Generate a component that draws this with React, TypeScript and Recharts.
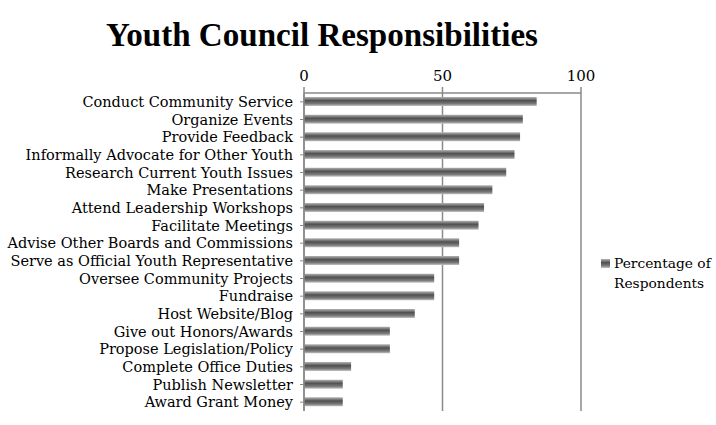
import { Bar, BarChart, XAxis, YAxis, CartesianGrid } from "recharts"

const categories = [
  "Conduct Community Service",
  "Organize Events",
  "Provide Feedback",
  "Informally Advocate for Other Youth",
  "Research Current Youth Issues",
  "Make Presentations",
  "Attend Leadership Workshops",
  "Facilitate Meetings",
  "Advise Other Boards and Commissions",
  "Serve as Official Youth Representative",
  "Oversee Community Projects",
  "Fundraise",
  "Host Website/Blog",
  "Give out Honors/Awards",
  "Propose Legislation/Policy",
  "Complete Office Duties",
  "Publish Newsletter",
  "Award Grant Money",
]

const percentages = [84, 79, 78, 76, 73, 68, 65, 63, 56, 56, 47, 47, 40, 31, 31, 17, 14, 14]

const xTicks = [0, 50, 100]

const data = categories.map((name, i) => ({
  name,
  value: percentages[i],
}))

const titleFont = "'Liberation Serif', serif"
const font = "'DejaVu Serif', serif"

export default function App() {
  return (
    <div style={{ position: "absolute", left: 0, top: 0, width: 716, height: 425, background: "#fff" }}>
      <svg width={716} height={70} style={{ position: "absolute", left: 0, top: 0 }}>
        <text
          x={322}
          y={46}
          textAnchor="middle"
          fontFamily={titleFont}
          fontWeight="bold"
          fontSize={34}
          textLength={432}
          lengthAdjust="spacingAndGlyphs"
          fill="#000"
        >
          Youth Council Responsibilities
        </text>
      </svg>
      <BarChart
        width={716}
        height={425}
        data={data}
        layout="vertical"
        margin={{ top: 58, right: 135, left: 0, bottom: 14 }}
        barCategoryGap={0}
      >
        <defs>
          <linearGradient id="barGrad" x1="0" y1="0" x2="0" y2="1">
            <stop offset="0%" stopColor="#b4b4b4" />
            <stop offset="40%" stopColor="#505050" />
            <stop offset="75%" stopColor="#7a7a7a" />
            <stop offset="100%" stopColor="#c4c4c4" />
          </linearGradient>
        </defs>
        <CartesianGrid horizontal={false} stroke="#8a8a8a" strokeWidth={1.5} />
        <XAxis
          type="number"
          orientation="top"
          domain={[0, 100]}
          ticks={xTicks}
          height={35}
          tickSize={6}
          tickMargin={6}
          axisLine={{ stroke: "#8a8a8a", strokeWidth: 1.5 }}
          tickLine={{ stroke: "#8a8a8a", strokeWidth: 1.5 }}
          tick={{ fontFamily: font, fontSize: 15, fill: "#000" }}
        />
        <YAxis
          type="category"
          dataKey="name"
          width={304}
          interval={0}
          tickSize={4}
          tickMargin={7}
          axisLine={{ stroke: "#8a8a8a", strokeWidth: 1.5 }}
          tickLine={{ stroke: "#8a8a8a", strokeWidth: 1 }}
          tick={{ fontFamily: font, fontSize: 14.5, fill: "#000" }}
        />
        <Bar
          dataKey="value"
          name="Percentage of Respondents"
          fill="url(#barGrad)"
          barSize={9}
          isAnimationActive={false}
        />
      </BarChart>
      <div
        style={{
          position: "absolute",
          left: 601,
          top: 253,
          fontFamily: font,
          fontSize: 13.8,
          lineHeight: "20px",
          color: "#000",
          whiteSpace: "nowrap",
        }}
      >
        <div style={{ display: "flex", alignItems: "center" }}>
          <span
            style={{
              display: "inline-block",
              width: 9,
              height: 9,
              marginRight: 4,
              background: "linear-gradient(#b4b4b4, #505050 40%, #7a7a7a 75%, #c4c4c4)",
            }}
          />
          <span>Percentage of</span>
        </div>
        <div style={{ paddingLeft: 13 }}>Respondents</div>
      </div>
    </div>
  )
}
